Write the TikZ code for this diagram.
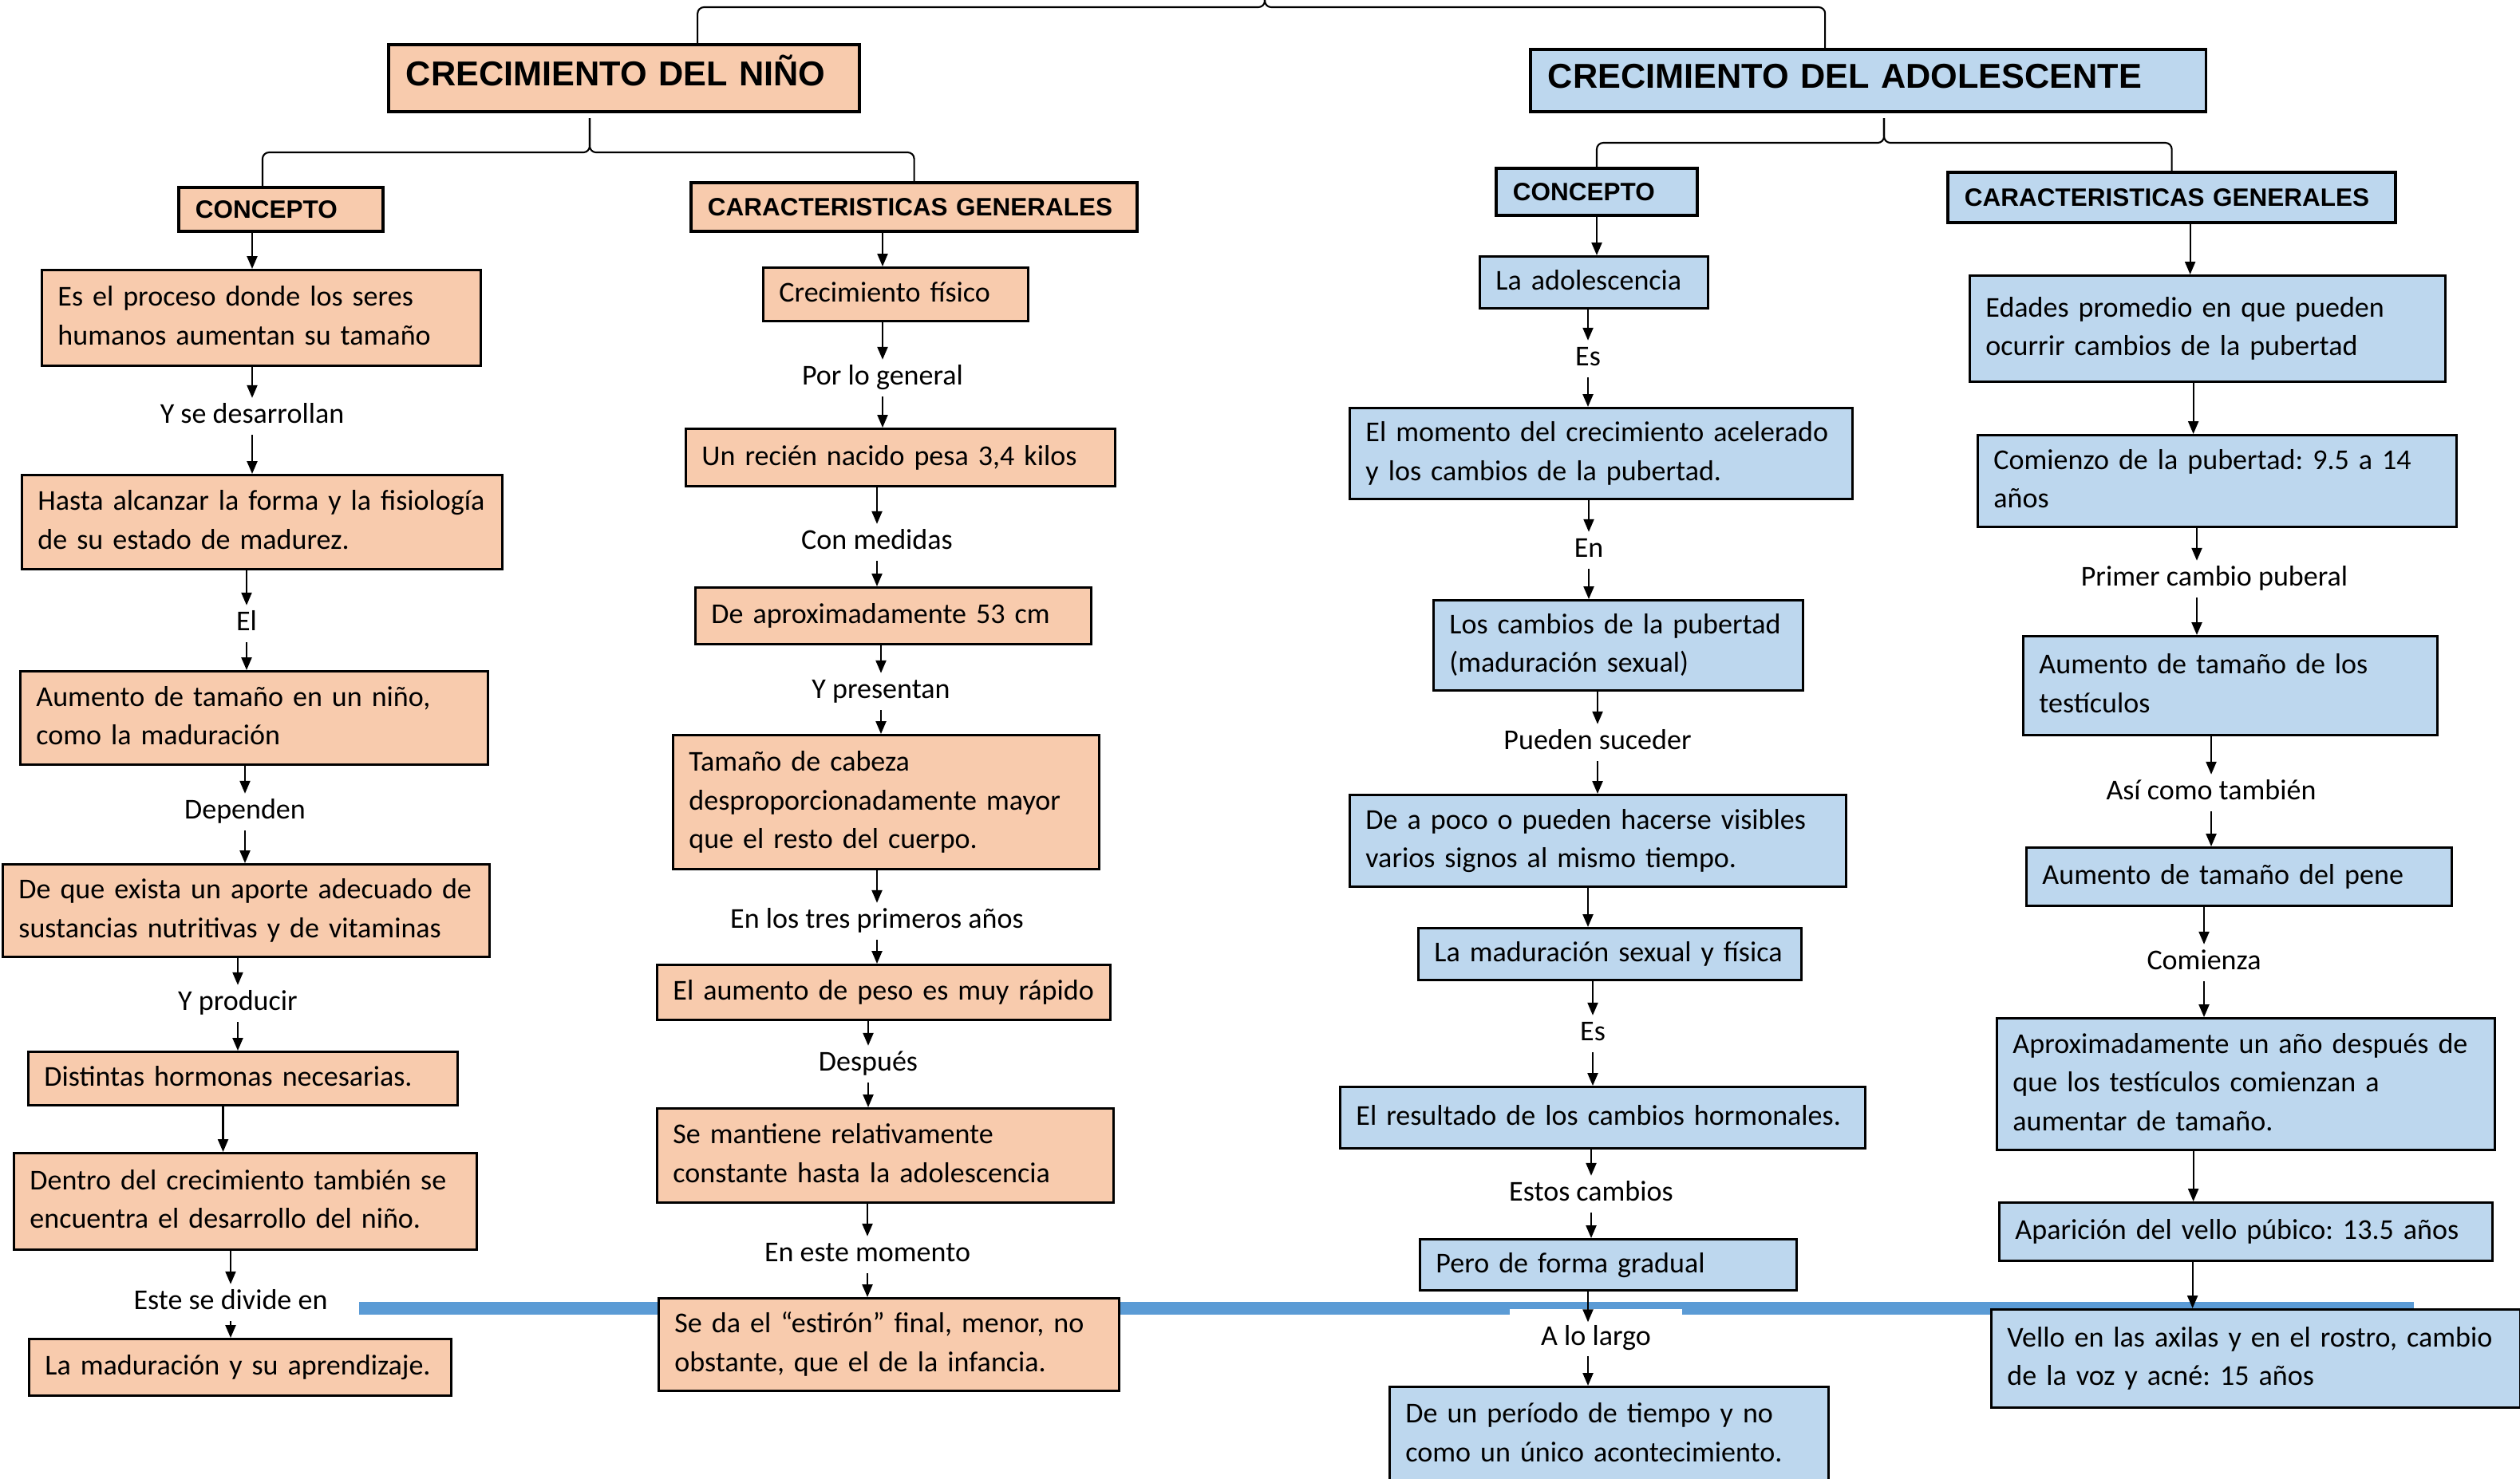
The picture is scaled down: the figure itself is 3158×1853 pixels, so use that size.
\documentclass[tikz,border=0pt]{standalone}
\usepackage{fontspec}
\setmainfont{Carlito}
\newfontfamily\arialfont{Liberation Sans}
\usetikzlibrary{arrows.meta}
\frenchspacing

\definecolor{durazno}{HTML}{F8CBAD}
\definecolor{celeste}{HTML}{BDD7EE}
\definecolor{azul}{HTML}{5B9BD5}

\newcommand{\cuerpo}{\fontsize{10.25pt}{13.8pt}\selectfont}
\newcommand{\titulo}{\arialfont\bfseries\fontsize{12.3pt}{14pt}\selectfont}
\newcommand{\subtitulo}{\arialfont\bfseries\fontsize{8.95pt}{11pt}\selectfont}

\tikzset{
  caja/.style={draw, line width=0.8pt, anchor=north west, align=left,
    inner xsep=0.2cm, inner ysep=0pt, font=\cuerpo,
    execute at begin node=\strut, execute at end node=\strut},
  nino/.style={caja, fill=durazno},
  adol/.style={caja, fill=celeste},
  encab/.style={draw, line width=1.1pt, anchor=north west, align=left, inner ysep=0pt},
  titulo/.style={encab, font=\titulo, inner xsep=0.22cm, text height=0.32cm, text depth=0.13cm},
  subtitulo/.style={encab, font=\subtitulo, inner xsep=0.21cm, text height=0.23cm, text depth=0pt},
  enlace/.style={font=\cuerpo, fill=white, inner xsep=2pt, inner ysep=1pt,
    text height=0.27cm, text depth=0.11cm},
  flecha/.style={-{Triangle[length=0.16cm,width=0.13cm]}, line width=0.65pt},
  llave/.style={line width=0.6pt, rounded corners=0.08cm},
}

\begin{document}
\begin{tikzpicture}[x=0.01cm, y=-0.01cm]
  \useasboundingbox (0,0) rectangle (3158,1853);

  % franja azul de fondo
  \fill[azul] (450,1632) rectangle (3025,1648);

  % titulos
  \node[titulo, fill=durazno, text width=5.46cm, minimum height=0.84cm] (hN) at (485,54) {CRECIMIENTO DEL NIÑO};
  \node[titulo, fill=celeste, text width=8.02cm, minimum height=0.78cm] (hA) at (1916,60) {CRECIMIENTO DEL ADOLESCENTE};
  \node[subtitulo, fill=durazno, text width=2.14cm, minimum height=0.55cm] (cN) at (222,233) {CONCEPTO};
  \node[subtitulo, fill=durazno, text width=5.17cm, minimum height=0.61cm] (cC) at (864,227) {CARACTERISTICAS GENERALES};
  \node[subtitulo, fill=celeste, text width=2.10cm, minimum height=0.59cm] (aC) at (1873,209) {CONCEPTO};
  \node[subtitulo, fill=celeste, text width=5.19cm, minimum height=0.63cm] (aR) at (2439,214) {CARACTERISTICAS GENERALES};

  % niño: concepto
  \node[nino, text width=5.10cm, minimum height=1.20cm] (n1) at (51,337) {Es el proceso donde los seres\\humanos aumentan su tamaño};
  \node[enlace] (l1) at (316,522) {Y se desarrollan};
  \node[nino, text width=5.62cm, minimum height=1.18cm] (n2) at (26,594) {Hasta alcanzar la forma y la fisiología\\de su estado de madurez.};
  \node[enlace] (l2) at (309,782) {El};
  \node[nino, text width=5.46cm, minimum height=1.17cm] (n3) at (24,840) {Aumento de tamaño en un niño,\\como la maduración};
  \node[enlace] (l3) at (307,1018) {Dependen};
  \node[nino, text width=5.70cm, minimum height=1.16cm] (n4) at (2,1082) {De que exista un aporte adecuado de\\sustancias nutritivas y de vitaminas};
  \node[enlace] (l4) at (298,1258) {Y producir};
  \node[nino, text width=4.98cm, minimum height=0.67cm] (n5) at (34,1317) {Distintas hormonas necesarias.};
  \node[nino, text width=5.40cm, minimum height=1.21cm] (n6) at (16,1444) {Dentro del crecimiento también se\\encuentra el desarrollo del niño.};
  \node[enlace] (l5) at (289,1633) {Este se divide en};
  \node[nino, text width=4.89cm, minimum height=0.71cm] (n7) at (35,1677) {La maduración y su aprendizaje.};

  % niño: caracteristicas
  \node[nino, text width=2.92cm, minimum height=0.67cm] (m1) at (955,334) {Crecimiento físico};
  \node[enlace] (k1) at (1106,474) {Por lo general};
  \node[nino, text width=4.98cm, minimum height=0.72cm] (m2) at (858,536) {Un recién nacido pesa 3,4 kilos};
  \node[enlace] (k2) at (1099,680) {Con medidas};
  \node[nino, text width=4.56cm, minimum height=0.71cm] (m3) at (870,735) {De aproximadamente 53 cm};
  \node[enlace] (k3) at (1104,867) {Y presentan};
  \node[nino, text width=4.94cm, minimum height=1.68cm] (m4) at (842,920) {Tamaño de cabeza\\desproporcionadamente mayor\\que el resto del cuerpo.};
  \node[enlace] (k4) at (1099,1155) {En los tres primeros años};
  \node[nino, text width=5.28cm, minimum height=0.69cm] (m5) at (822,1208) {El aumento de peso es muy rápido};
  \node[enlace] (k5) at (1088,1334) {Después};
  \node[nino, text width=5.32cm, minimum height=1.18cm] (m6) at (822,1388) {Se mantiene relativamente\\constante hasta la adolescencia};
  \node[enlace] (k6) at (1087,1573) {En este momento};
  \node[nino, text width=5.37cm, minimum height=1.16cm] (m7) at (824,1626) {Se da el “estirón” final, menor, no\\obstante, que el de la infancia.};

  % adolescente: concepto
  \node[adol, text width=2.46cm, minimum height=0.65cm] (a1) at (1853,320) {La adolescencia};
  \node[enlace] (j1) at (1990,450) {Es};
  \node[adol, text width=5.90cm, minimum height=1.14cm] (a2) at (1690,510) {El momento del crecimiento acelerado\\y los cambios de la pubertad.};
  \node[enlace] (j2) at (1991,690) {En};
  \node[adol, text width=4.23cm, minimum height=1.13cm] (a3) at (1795,751) {Los cambios de la pubertad\\(maduración sexual)};
  \node[enlace] (j3) at (2002,931) {Pueden suceder};
  \node[adol, text width=5.82cm, minimum height=1.15cm] (a4) at (1690,995) {De a poco o pueden hacerse visibles\\varios signos al mismo tiempo.};
  \node[adol, text width=4.40cm, minimum height=0.65cm] (a5) at (1776,1162) {La maduración sexual y física};
  \node[enlace] (j4) at (1996,1296) {Es};
  \node[adol, text width=6.18cm, minimum height=0.77cm] (a6) at (1678,1361) {El resultado de los cambios hormonales.};
  \node[enlace] (j5) at (1994,1497) {Estos cambios};
  \node[adol, text width=4.32cm, minimum height=0.64cm] (a7) at (1778,1552) {Pero de forma gradual};
  \node[enlace, minimum width=2.15cm, inner ysep=0.18cm] (j6) at (2000,1678) {A lo largo};
  \node[adol, text width=5.10cm, minimum height=1.20cm] (a8) at (1740,1737) {De un período de tiempo y no\\como un único acontecimiento.};

  % adolescente: caracteristicas
  \node[adol, text width=5.56cm, minimum height=1.33cm] (r1) at (2467,344) {Edades promedio en que pueden\\ocurrir cambios de la pubertad};
  \node[adol, text width=5.60cm, minimum height=1.15cm] (r2) at (2477,544) {Comienzo de la pubertad: 9.5 a 14\\años};
  \node[enlace] (q1) at (2775,726) {Primer cambio puberal};
  \node[adol, text width=4.79cm, minimum height=1.24cm] (r3) at (2534,796) {Aumento de tamaño de los\\testículos};
  \node[enlace] (q2) at (2771,994) {Así como también};
  \node[adol, text width=4.93cm, minimum height=0.73cm] (r4) at (2538,1061) {Aumento de tamaño del pene};
  \node[enlace] (q3) at (2762,1207) {Comienza};
  \node[adol, text width=5.84cm, minimum height=1.65cm] (r5) at (2501,1275) {Aproximadamente un año después de\\que los testículos comienzan a\\aumentar de tamaño.};
  \node[adol, text width=5.78cm, minimum height=0.73cm] (r6) at (2504,1506) {Aparición del vello púbico: 13.5 años};
  \node[adol, text width=6.23cm, minimum height=1.23cm] (r7) at (2494,1640) {Vello en las axilas y en el rostro, cambio\\de la voz y acné: 15 años};

  % llaves
  \coordinate (tope) at (1585,0);
  \coordinate (pN) at (739,148);
  \coordinate (pA) at (2361,148);
  \draw[llave] ([xshift=0.92cm]hN.north) |- ([yshift=-0.09cm]tope) -- (tope);
  \draw[llave] (tope) -- ([yshift=-0.09cm]tope) -| ([xshift=-0.54cm]hA.north);
  \draw[llave] ([xshift=-0.23cm]cN.north) |- ([yshift=-0.43cm]pN) -- (pN);
  \draw[llave] (pN) -- ([yshift=-0.43cm]pN) -| (cC.north);
  \draw[llave] (aC.north) |- ([yshift=-0.31cm]pA) -- (pA);
  \draw[llave] (pA) -- ([yshift=-0.31cm]pA) -| (aR.north);

  % flechas niño: concepto
  \draw[flecha] (cN.south -| l1) -- (n1.north -| l1);
  \draw[flecha] (n1.south -| l1) -- (l1.north);
  \draw[flecha] (l1.south) -- (l1.south |- n2.north);
  \draw[flecha] (n2.south -| l2) -- (l2.north);
  \draw[flecha] (l2.south) -- (l2.south |- n3.north);
  \draw[flecha] (n3.south -| l3) -- (l3.north);
  \draw[flecha] (l3.south) -- (l3.south |- n4.north);
  \draw[flecha] (n4.south -| l4) -- (l4.north);
  \draw[flecha] (l4.south) -- (l4.south |- n5.north);
  \draw[flecha] ([xshift=-0.25cm]n5.south) -- ([xshift=-0.25cm]n5.south |- n6.north);
  \draw[flecha] (n6.south -| l5) -- (l5.north);
  \draw[flecha] (l5.south) -- (l5.south |- n7.north);

  % flechas niño: caracteristicas
  \draw[flecha] (cC.south -| k1) -- (m1.north -| k1);
  \draw[flecha] (m1.south -| k1) -- (k1.north);
  \draw[flecha] (k1.south) -- (k1.south |- m2.north);
  \draw[flecha] (m2.south -| k2) -- (k2.north);
  \draw[flecha] (k2.south) -- (k2.south |- m3.north);
  \draw[flecha] (m3.south -| k3) -- (k3.north);
  \draw[flecha] (k3.south) -- (k3.south |- m4.north);
  \draw[flecha] (m4.south -| k4) -- (k4.north);
  \draw[flecha] (k4.south) -- (k4.south |- m5.north);
  \draw[flecha] (m5.south -| k5) -- (k5.north);
  \draw[flecha] (k5.south) -- (k5.south |- m6.north);
  \draw[flecha] (m6.south -| k6) -- (k6.north);
  \draw[flecha] (k6.south) -- (k6.south |- m7.north);

  % flechas adolescente: concepto
  \draw[flecha] (aC.south) -- (aC.south |- a1.north);
  \draw[flecha] (a1.south -| j1) -- (j1.north);
  \draw[flecha] (j1.south) -- (j1.south |- a2.north);
  \draw[flecha] (a2.south -| j2) -- (j2.north);
  \draw[flecha] (j2.south) -- (j2.south |- a3.north);
  \draw[flecha] (a3.south -| j3) -- (j3.north);
  \draw[flecha] (j3.south) -- (j3.south |- a4.north);
  \draw[flecha] (a4.south -| j1) -- (a5.north -| j1);
  \draw[flecha] (a5.south -| j4) -- (j4.north);
  \draw[flecha] (j4.south) -- (j4.south |- a6.north);
  \draw[flecha] (a6.south -| j5) -- (j5.north);
  \draw[flecha] (j5.south) -- (j5.south |- a7.north);
  \draw[flecha, shorten >=-0.17cm] (a7.south -| j1) -- (j6.north -| j1);
  \draw[flecha, shorten <=-0.16cm] (j6.south -| j1) -- (a8.north -| j1);

  % flechas adolescente: caracteristicas
  \draw[flecha] ([xshift=0.23cm]aR.south) -- ([xshift=0.23cm]aR.south |- r1.north);
  \draw[flecha] ([xshift=0.27cm]aR.south |- r1.south) -- ([xshift=0.27cm]aR.south |- r2.north);
  \draw[flecha] ([xshift=-0.22cm]q1.north |- r2.south) -- ([xshift=-0.22cm]q1.north);
  \draw[flecha] ([xshift=-0.22cm]q1.south) -- ([xshift=-0.22cm]q1.south |- r3.north);
  \draw[flecha] (r3.south -| q2) -- (q2.north);
  \draw[flecha] (q2.south) -- (q2.south |- r4.north);
  \draw[flecha] (r4.south -| q3) -- (q3.north);
  \draw[flecha] (q3.south) -- (q3.south |- r5.north);
  \draw[flecha] ([xshift=0.27cm]aR.south |- r5.south) -- ([xshift=0.27cm]aR.south |- r6.north);
  \draw[flecha] ([xshift=0.26cm]aR.south |- r6.south) -- ([xshift=0.26cm]aR.south |- r7.north);
\end{tikzpicture}
\end{document}
